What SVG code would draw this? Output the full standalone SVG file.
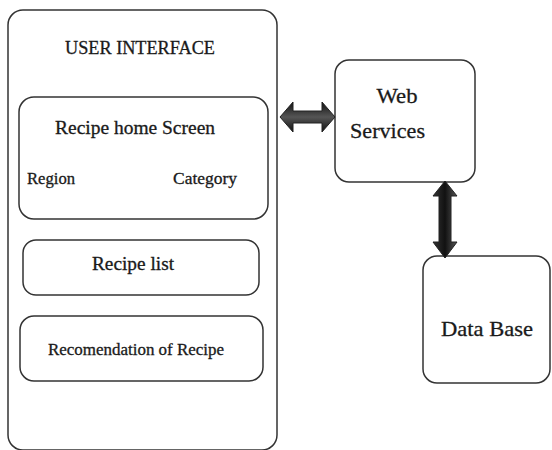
<svg xmlns="http://www.w3.org/2000/svg" width="552" height="450" viewBox="0 0 552 450">
<defs>
<linearGradient id="gh" x1="0" y1="0" x2="0" y2="1">
<stop offset="0" stop-color="#111"/><stop offset="0.5" stop-color="#555"/><stop offset="1" stop-color="#111"/>
</linearGradient>
<linearGradient id="gv" x1="0" y1="0" x2="1" y2="0">
<stop offset="0" stop-color="#333"/><stop offset="0.5" stop-color="#111"/><stop offset="1" stop-color="#555"/>
</linearGradient>
<style>
.box{fill:#fff;stroke:#333;stroke-width:1.5}
text{font-family:'Liberation Serif','DejaVu Serif',serif;fill:#1a1a1a;stroke:#1a1a1a;stroke-width:0.3}
.arr{stroke:#222;stroke-width:1}
</style>
</defs>
<rect width="552" height="450" fill="#fff"/>
<g id="user-interface">
<rect class="box" x="8" y="10" width="269" height="440" rx="15"/>
<text x="140" y="54" font-size="19" text-anchor="middle" textLength="150" lengthAdjust="spacingAndGlyphs">USER INTERFACE</text>
</g>
<g id="recipe-home">
<rect class="box" x="19" y="97" width="249" height="122" rx="15"/>
<text x="135" y="134" font-size="18" text-anchor="middle" textLength="160" lengthAdjust="spacingAndGlyphs">Recipe home Screen</text>
<text x="27" y="184" font-size="16" textLength="48" lengthAdjust="spacingAndGlyphs">Region</text>
<text x="173" y="184" font-size="16" textLength="64" lengthAdjust="spacingAndGlyphs">Category</text>
</g>
<g id="recipe-list">
<rect class="box" x="23" y="240" width="236" height="55" rx="13"/>
<text x="133" y="270" font-size="18" text-anchor="middle" textLength="82" lengthAdjust="spacingAndGlyphs">Recipe list</text>
</g>
<g id="recommendation">
<rect class="box" x="20" y="316" width="243" height="65" rx="14"/>
<text x="136" y="355" font-size="16" text-anchor="middle" textLength="176" lengthAdjust="spacingAndGlyphs">Recomendation of Recipe</text>
</g>
<g id="web-services">
<rect class="box" x="335" y="60" width="140" height="122" rx="14"/>
<text x="397" y="103" font-size="22" text-anchor="middle" textLength="41" lengthAdjust="spacingAndGlyphs">Web</text>
<text x="350" y="138" font-size="22" textLength="75" lengthAdjust="spacingAndGlyphs">Services</text>
</g>
<g id="database">
<rect class="box" x="423" y="256" width="127" height="127" rx="14"/>
<text x="487" y="336" font-size="21" text-anchor="middle" textLength="92" lengthAdjust="spacingAndGlyphs">Data Base</text>
</g>
<g id="connectors">
<polygon class="arr" fill="url(#gh)" points="280,117 293,102 293,111 322,111 322,102 335,117 322,132 322,123 293,123 293,132"/>
<polygon class="arr" fill="url(#gv)" points="445,181 457,196 451,196 451,242 457,242 445,258 433,242 439,242 439,196 433,196"/>
</g>
</svg>
